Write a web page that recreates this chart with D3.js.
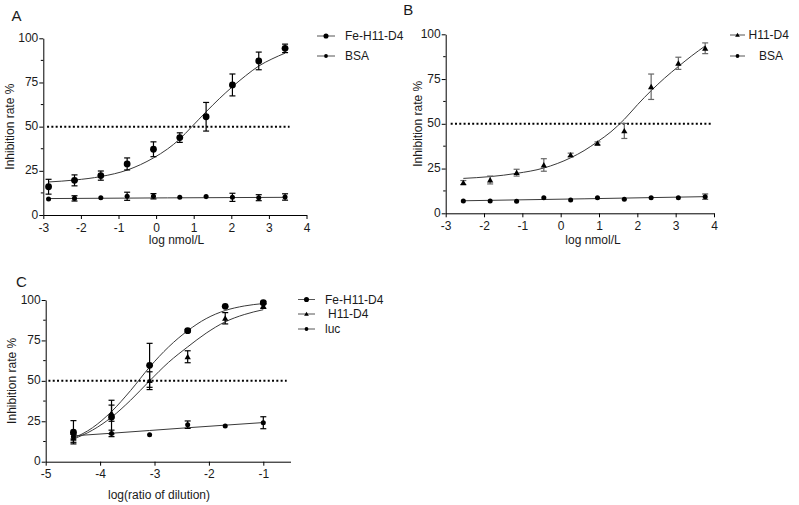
<!DOCTYPE html>
<html><head><meta charset="utf-8">
<script src="https://cdn.jsdelivr.net/npm/d3@7"></script>
<style>body{margin:0;background:#fff}svg{display:block;font-family:"Liberation Sans",Arial,sans-serif}</style>
</head><body><svg id="c" width="799" height="505"></svg>
<script>
// ---------- DATA ----------
const yTicks = [0, 25, 50, 75, 100];
const yMinorTicks = [12.5, 37.5, 62.5, 87.5];
const abTicks = [-3, -2, -1, 0, 1, 2, 3, 4];
const cTicks = [-5, -4, -3, -2, -1];
const refLevel = 50;

// Panel A
const aX = [-2.86, -2.17, -1.47, -0.77, -0.07, 0.63, 1.33, 2.03, 2.73, 3.43];
const aFeY = [16.0, 19.6, 22.3, 28.9, 37.2, 43.8, 55.6, 73.6, 87.2, 94.3];
const aFeErr = [4.2, 3.1, 2.6, 3.4, 4.2, 2.7, 8.1, 6.2, 5.0, 2.4];
const aBsaY = [9.0, 9.4, 9.8, 10.6, 10.6, 10.0, 10.4, 10.0, 9.8, 10.2];
const aBsaErr = [0, 1.5, 0, 2.3, 1.5, 0, 0, 2.3, 1.7, 1.8];
const aFeFitX = [-2.86, -2.16, -1.46, -0.76, -0.07, 0.3, 0.63, 0.92, 1.33, 1.68, 2.03, 2.38, 2.73, 3.08, 3.43];
const aFeFitY = [18.7, 19.8, 21.8, 25.5, 32.3, 37.3, 43.0, 49.3, 58.4, 65.8, 72.6, 78.8, 84.3, 88.3, 91.6];
const aBsaFitX = [-2.86, 0.3, 3.43];
const aBsaFitY = [9.3, 9.7, 10.0];

// Panel B
const bX = [-2.54, -1.84, -1.15, -0.44, 0.26, 0.96, 1.66, 2.36, 3.07, 3.77];
const bH11Y = [17.1, 18.6, 22.7, 27.0, 32.6, 39.1, 46.0, 70.7, 83.8, 92.2];
const bH11Err = [1.2, 2.2, 1.9, 3.5, 1.0, 0.8, 4.2, 7.1, 3.4, 3.0];
const bBsaY = [6.9, 6.9, 6.7, 8.7, 7.4, 8.7, 7.8, 8.7, 8.7, 9.3];
const bBsaErr = [0, 0, 0, 0, 0, 0, 0, 0, 0, 1.5];
const bH11FitX = [-2.54, -1.84, -1.15, -0.44, 0.26, 0.61, 0.96, 1.31, 1.66, 2.01, 2.36, 2.71, 3.07, 3.42, 3.77];
const bH11FitY = [19.5, 20.5, 22.3, 25.3, 31.0, 35.0, 40.0, 45.5, 52.5, 60.8, 68.5, 75.5, 82.0, 88.0, 93.5];
const bBsaFitX = [-2.54, 0.61, 3.77];
const bBsaFitY = [7.0, 8.1, 9.3];

// Panel C
const cX = [-4.49, -3.79, -3.09, -2.39, -1.70, -1.00];
const cFeY = [18.2, 27.6, 59.6, 81.0, 96.1, 98.3];
const cFeErr = [7.2, 10.4, 13.6, 0.8, 0, 0.8];
const cH11Y = [14.5, 30.0, 50.1, 64.9, 88.7, 96.3];
const cH11Err = [2.5, 5.0, 5.5, 3.7, 3.5, 1.5];
const cLucY = [15.5, 17.5, 16.7, 22.9, 22.1, 24.1];
const cLucErr = [1.5, 2.0, 0, 2.3, 0, 3.7];
const cFitX = [-4.49, -4.14, -3.79, -3.44, -3.09, -2.74, -2.39, -2.05, -1.70, -1.35, -1.00];
const cFeFitY = [14.5, 21.0, 31.0, 44.0, 58.5, 71.0, 81.0, 88.5, 93.5, 96.3, 97.8];
const cH11FitY = [14.0, 19.5, 27.5, 38.0, 50.0, 61.5, 71.0, 79.5, 86.5, 91.0, 94.0];
const cLucFitX = [-4.49, -3.79, -3.09, -2.39, -1.70, -1.00];
const cLucFitY = [16.0, 17.6, 19.3, 21.0, 22.6, 24.2];

// ---------- DRAW ----------
const svg = d3.select("#c");
const TXT = "#1a1a1a";

function marker(g, type, cx, cy, s) {
  if (type === "circle") {
    g.append("circle").attr("cx", cx).attr("cy", cy).attr("r", 3.4 * s).attr("fill", "#000");
  } else if (type === "triangle") {
    g.append("path").attr("transform", `translate(${cx},${cy + 0.6 * s})`)
      .attr("d", d3.symbol(d3.symbolTriangle, 17 * s * s)()).attr("fill", "#000");
  } else {
    g.append("path").attr("transform", `translate(${cx},${cy})`)
      .attr("d", d3.symbol(d3.symbolCircle, 20 * s * s)()).attr("fill", "#000");
  }
}

function panel(cfg) {
  const x = d3.scaleLinear().domain(cfg.xDomain).range(cfg.xRange);
  const y = d3.scaleLinear().domain([0, 100]).range(cfg.yRange);
  const g = svg.append("g");

  // axes
  const xa = g.append("g").attr("transform", `translate(0,${cfg.yRange[0]})`)
    .call(d3.axisBottom(x).tickValues(cfg.xTicks).tickFormat(d => String(d))
      .tickSizeInner(4).tickSizeOuter(0).tickPadding(4));
  const ya = g.append("g").attr("transform", `translate(${cfg.xRange[0]},0)`)
    .call(d3.axisLeft(y).tickValues(yTicks).tickFormat(d => String(d))
      .tickSizeInner(4).tickSizeOuter(0).tickPadding(1));
  [xa, ya].forEach(a => {
    a.attr("font-size", 12).attr("font-family", null);
    a.selectAll("path,line").attr("stroke", "#000").attr("stroke-width", 1);
    a.selectAll("text").attr("fill", TXT);
  });
  ya.selectAll("text").attr("dy", "0.25em");
  g.selectAll(null).data(yMinorTicks).enter().append("line")
    .attr("x1", cfg.xRange[0] - 2.5).attr("x2", cfg.xRange[0])
    .attr("y1", d => y(d)).attr("y2", d => y(d)).attr("stroke", "#000");

  // reference dotted line
  g.append("line").attr("x1", x(cfg.refX[0])).attr("x2", x(cfg.refX[1]))
    .attr("y1", y(refLevel)).attr("y2", y(refLevel))
    .attr("stroke", "#000").attr("stroke-width", 2).attr("stroke-dasharray", "2,2.3");

  // fitted curves
  const line = d3.line().x(d => x(d[0])).y(d => y(d[1])).curve(d3.curveMonotoneX);
  cfg.fits.forEach(f => {
    g.append("path").datum(d3.zip(f.x, f.y)).attr("d", line)
      .attr("fill", "none").attr("stroke", "#3a3a3a").attr("stroke-width", 1);
  });

  // error bars + points
  cfg.series.forEach(s => {
    const eg = g.append("g").attr("stroke", s.errColor || "#000").attr("stroke-width", 1.2);
    s.x.forEach((xv, i) => {
      const e = s.err[i];
      if (!e) return;
      const px = x(xv), t = y(s.y[i] + e), b = y(s.y[i] - e);
      eg.append("line").attr("x1", px).attr("x2", px).attr("y1", t).attr("y2", b);
      eg.append("line").attr("x1", px - 3).attr("x2", px + 3).attr("y1", t).attr("y2", t);
      eg.append("line").attr("x1", px - 3).attr("x2", px + 3).attr("y1", b).attr("y2", b);
    });
  });
  cfg.series.forEach(s => {
    s.x.forEach((xv, i) => marker(g, s.marker, x(xv), y(s.y[i]), s.size || 1));
  });

  // titles
  g.append("text").attr("transform", `translate(${cfg.yTitlePos[0]},${(cfg.yRange[0] + cfg.yRange[1]) / 2}) rotate(-90)`)
    .attr("text-anchor", "middle").attr("font-size", 12).attr("fill", TXT).text("Inhibition rate %");
  g.append("text").attr("x", cfg.xTitlePos[0]).attr("y", cfg.xTitlePos[1])
    .attr("text-anchor", "middle").attr("font-size", 12).attr("fill", TXT).text(cfg.xTitle);
  g.append("text").attr("x", cfg.letterPos[0]).attr("y", cfg.letterPos[1])
    .attr("font-size", 15).attr("fill", TXT).text(cfg.letter);

  // legend
  cfg.legend.forEach(l => {
    const lg = g.append("g");
    lg.append("line").attr("x1", cfg.legLine[0]).attr("x2", cfg.legLine[1])
      .attr("y1", l.y).attr("y2", l.y).attr("stroke", "#555").attr("stroke-width", 1);
    marker(lg, l.marker, (cfg.legLine[0] + cfg.legLine[1]) / 2, l.y, 0.75);
    lg.append("text").attr("x", l.tx).attr("y", l.y).attr("dy", "0.36em")
      .attr("font-size", 12).attr("fill", TXT).text(l.label);
  });
}

panel({
  xDomain: [-3, 4], xRange: [43.3, 306.5], yRange: [215, 38.3], xTicks: abTicks,
  refX: [-2.9, 3.55], letter: "A", letterPos: [11.5, 20.5],
  yTitlePos: [14], xTitle: "log nmol/L", xTitlePos: [176.5, 244],
  fits: [{x: aFeFitX, y: aFeFitY}, {x: aBsaFitX, y: aBsaFitY}],
  series: [
    {x: aX, y: aBsaY, err: aBsaErr, marker: "diamond"},
    {x: aX, y: aFeY, err: aFeErr, marker: "circle"}
  ],
  legLine: [317, 335],
  legend: [
    {label: "Fe-H11-D4", y: 36, tx: 345, marker: "circle"},
    {label: "BSA", y: 56, tx: 345, marker: "diamond"}
  ]
});

panel({
  xDomain: [-3, 4], xRange: [445.7, 714], yRange: [213.3, 34.3], xTicks: abTicks,
  refX: [-2.87, 3.92], letter: "B", letterPos: [403.3, 15],
  yTitlePos: [422], xTitle: "log nmol/L", xTitlePos: [593, 244],
  fits: [{x: bH11FitX, y: bH11FitY}, {x: bBsaFitX, y: bBsaFitY}],
  series: [
    {x: bX, y: bBsaY, err: bBsaErr, marker: "diamond", errColor: "#555"},
    {x: bX, y: bH11Y, err: bH11Err, marker: "triangle", errColor: "#666"}
  ],
  legLine: [730, 745],
  legend: [
    {label: "H11-D4", y: 35, tx: 748.5, marker: "triangle"},
    {label: "BSA", y: 56, tx: 759, marker: "diamond"}
  ]
});

panel({
  xDomain: [-5, -0.5], xRange: [45.7, 290.5], yRange: [461.7, 300], xTicks: cTicks,
  refX: [-4.95, -0.57], letter: "C", letterPos: [16, 286.7],
  yTitlePos: [16], xTitle: "log(ratio of dilution)", xTitlePos: [159, 499],
  fits: [{x: cFitX, y: cFeFitY}, {x: cFitX, y: cH11FitY}, {x: cLucFitX, y: cLucFitY}],
  series: [
    {x: cX, y: cLucY, err: cLucErr, marker: "diamond"},
    {x: cX, y: cH11Y, err: cH11Err, marker: "triangle"},
    {x: cX, y: cFeY, err: cFeErr, marker: "circle"}
  ],
  legLine: [298, 315],
  legend: [
    {label: "Fe-H11-D4", y: 299.5, tx: 325, marker: "circle"},
    {label: "H11-D4", y: 314, tx: 328, marker: "triangle"},
    {label: "luc", y: 329, tx: 325, marker: "diamond"}
  ]
});
</script></body></html>
